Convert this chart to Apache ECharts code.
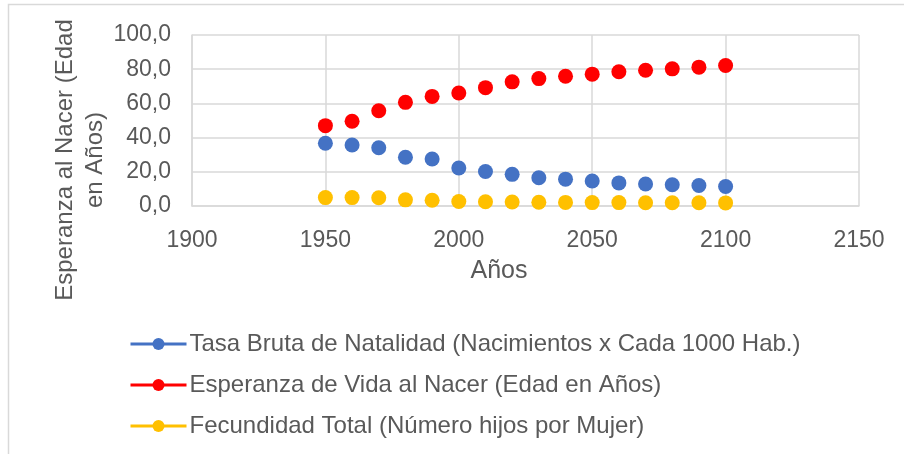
<!DOCTYPE html>
<html>
<head>
<meta charset="utf-8">
<script src="https://cdn.jsdelivr.net/npm/echarts@6/dist/echarts.min.js"></script>
<style>
  html, body { margin: 0; padding: 0; background: #fff; }
  #chart { width: 904px; height: 454px; }
</style>
</head>
<body>
<div id="chart"></div>
<script>
// datos
const years = [1950, 1960, 1970, 1980, 1990, 2000, 2010, 2020, 2030, 2040, 2050, 2060, 2070, 2080, 2090, 2100]
const natalidad = [36.7, 35.7, 34.1, 28.5, 27.5, 22.2, 20.2, 18.5, 16.5, 15.7, 14.6, 13.5, 12.9, 12.4, 12.0, 11.4]
const esperanza = [47.0, 49.6, 55.7, 60.6, 64.1, 66.1, 69.2, 72.6, 74.5, 75.9, 77.1, 78.5, 79.4, 80.2, 81.2, 82.2]
const fecundidad = [4.9, 4.9, 4.8, 3.6, 3.4, 2.6, 2.5, 2.3, 2.2, 2.1, 2.0, 2.0, 1.9, 1.9, 1.9, 1.8]
const seriesNames = [
  'Tasa Bruta de Natalidad (Nacimientos x Cada 1000 Hab.)',
  'Esperanza de Vida al Nacer (Edad en Años)',
  'Fecundidad Total (Número hijos por Mujer)'
]
const colors = ['#4472c4', '#ff0000', '#ffc000']

const FONT = '"Liberation Sans", Arial, sans-serif'
const TEXT = '#595959'
const GRID = '#d9d9d9'

const pairs = vals => vals.map((v, i) => [years[i], v])

const makeSeries = (name, vals, color) => ({
  name: name,
  type: 'line',
  data: pairs(vals),
  symbol: 'circle',
  symbolSize: 15,
  showSymbol: true,
  itemStyle: { color: color },
  lineStyle: { color: color, width: 0, opacity: 0 },
  z: 3
})

const chart = echarts.init(document.getElementById('chart'))
chart.setOption({
  animation: false,
  color: colors,
  grid: { left: 192, right: 45, top: 35, bottom: 248 },
  xAxis: {
    type: 'value',
    min: 1900,
    max: 2150,
    interval: 50,
    axisLine: { show: true, lineStyle: { color: GRID, width: 1.5 } },
    axisTick: { show: false },
    axisLabel: {
      color: TEXT, fontSize: 23, fontFamily: FONT, margin: 23,
      formatter: v => String(v)
    },
    splitLine: { show: true, lineStyle: { color: GRID, width: 1.5 } }
  },
  yAxis: {
    type: 'value',
    min: 0,
    max: 100,
    interval: 20,
    axisLine: { show: true, lineStyle: { color: GRID, width: 1.5 } },
    axisTick: { show: false },
    axisLabel: {
      color: TEXT, fontSize: 23, fontFamily: FONT, margin: 21,
      formatter: v => v.toFixed(1).replace('.', ',')
    },
    splitLine: { show: true, lineStyle: { color: GRID, width: 1.5 } }
  },
  legend: {
    orient: 'vertical',
    left: 129,
    top: 332,
    padding: 0,
    itemWidth: 56,
    itemHeight: 15,
    itemGap: 17,
    data: seriesNames,
    lineStyle: { width: 3, opacity: 1 },
    textStyle: { color: TEXT, fontSize: 24, fontFamily: FONT, padding: [0, 0, 0, -2] }
  },
  graphic: [
    {
      type: 'rect',
      shape: { x: 8.5, y: 4.5, width: 1000, height: 1000 },
      style: { fill: 'none', stroke: GRID, lineWidth: 1.5 },
      silent: true
    },
    {
      type: 'text',
      x: 80,
      y: 160,
      rotation: Math.PI / 2,
      style: {
        text: 'Esperanza al Nacer (Edad\nen Años)',
        fill: TEXT,
        font: '24px ' + FONT,
        align: 'center',
        verticalAlign: 'middle',
        lineHeight: 30
      }
    },
    {
      type: 'text',
      x: 499,
      y: 271,
      style: {
        text: 'Años',
        fill: TEXT,
        font: '25px ' + FONT,
        align: 'center',
        verticalAlign: 'middle'
      }
    }
  ],
  series: [
    makeSeries(seriesNames[0], natalidad, colors[0]),
    makeSeries(seriesNames[1], esperanza, colors[1]),
    makeSeries(seriesNames[2], fecundidad, colors[2])
  ]
})
</script>
</body>
</html>
